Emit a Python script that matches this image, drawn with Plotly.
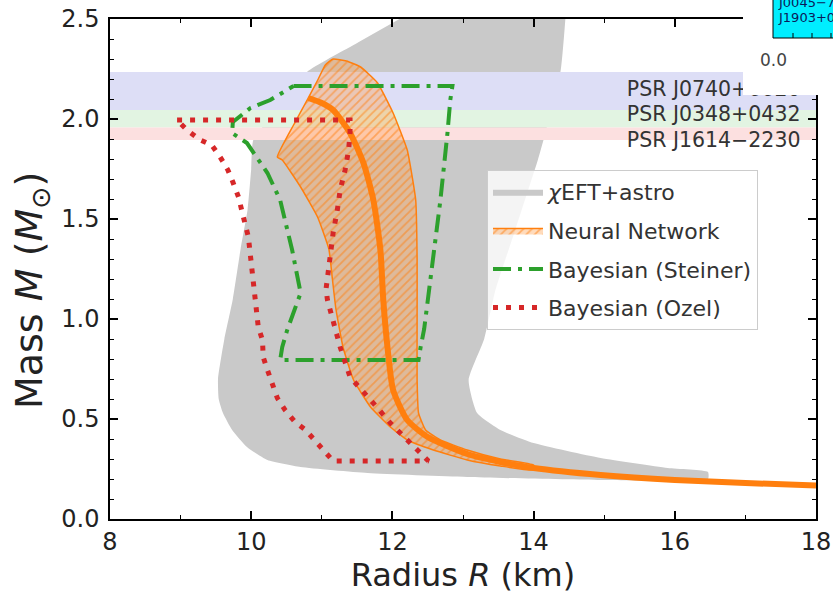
import plotly.graph_objects as go

# ---------------- data ----------------
X_RANGE = [8, 18]
Y_RANGE = [0, 2.5]
X_TICKS = [8, 10, 12, 14, 16, 18]
Y_TICKS = [0.0, 0.5, 1.0, 1.5, 2.0, 2.5]

# chiEFT + astro band (gray)
CHIEFT_R = [12.10, 11.45, 10.79, 10.40, 10.03, 10.00, 9.95, 9.85, 9.74, 9.62, 9.53, 9.54,
            9.60, 9.73, 9.94, 10.23, 10.70, 11.65, 13.06, 14.95, 16.47,
            16.47, 15.90, 14.95, 14.00, 13.53, 13.20, 13.08, 13.30, 13.46, 13.74, 14.06,
            14.14, 14.38, 14.45]
CHIEFT_M = [2.50, 2.37, 2.235, 2.06, 1.895, 1.75, 1.55, 1.35, 1.10, 0.90, 0.70, 0.60,
            0.53, 0.445, 0.36, 0.295, 0.26, 0.23, 0.21, 0.195, 0.20,
            0.235, 0.255, 0.305, 0.38, 0.445, 0.53, 0.695, 0.90, 1.145, 1.445, 1.795,
            1.895, 2.235, 2.50]

# Neural network band (hatched)
NN_R = [10.37, 10.60, 10.80, 10.95, 11.05, 11.16, 11.35, 11.55, 11.79, 12.01, 12.21,
        12.33, 12.35, 12.35, 12.35, 12.37, 12.47, 12.68, 13.06, 13.53, 14.00,
        14.00, 13.53, 13.06, 12.58, 12.21, 11.97, 11.69, 11.45, 11.30, 11.20, 11.15,
        11.10, 10.94, 10.70, 10.44, 10.37]
NN_M = [1.81, 1.97, 2.10, 2.20, 2.27, 2.30, 2.29, 2.26, 2.18, 2.03, 1.845,
        1.595, 1.30, 1.00, 0.695, 0.53, 0.445, 0.395, 0.345, 0.30, 0.27,
        0.245, 0.265, 0.295, 0.345, 0.395, 0.46, 0.56, 0.695, 0.86, 1.05, 1.20,
        1.35, 1.51, 1.66, 1.795, 1.81]

# Neural network median curve
NN_MED_R = [10.81, 11.00, 11.16, 11.40, 11.59, 11.73, 11.83, 11.87, 11.93, 12.01, 12.21,
            12.50, 13.06, 13.53, 14.00, 14.95, 16.00, 17.00, 18.00]
NN_MED_M = [2.105, 2.08, 2.045, 1.93, 1.78, 1.595, 1.345, 1.10, 0.86, 0.645, 0.495,
            0.41, 0.325, 0.285, 0.255, 0.22, 0.195, 0.18, 0.168]

# Bayesian (Steiner) contour
STEINER_R = [10.60, 12.85, 12.82, 12.78, 12.68, 12.54, 12.45, 12.40, 12.37, 10.41, 10.44,
             10.51, 10.70, 10.58, 10.41, 10.23, 9.94, 9.73, 9.74, 9.99, 10.27, 10.60]
STEINER_M = [2.165, 2.165, 2.095, 1.93, 1.595, 1.18, 0.95, 0.86, 0.795, 0.795, 0.86,
             0.945, 1.13, 1.345, 1.595, 1.73, 1.88, 1.93, 1.985, 2.055, 2.095, 2.165]

# Bayesian (Ozel) contour
OZEL_R = [8.95, 11.40, 11.40, 11.38, 11.33, 11.26, 11.22, 11.16, 11.10, 11.06, 11.08,
          11.16, 11.26, 11.40, 11.59, 11.79, 11.97, 12.16, 12.35, 12.51,
          11.16, 11.05, 10.91, 10.77, 10.62, 10.48, 10.37, 10.30, 10.23, 10.17, 10.16,
          10.10, 10.06, 10.03, 10.01, 9.96, 9.91, 9.87, 9.82, 9.74, 9.67, 9.56, 9.44,
          9.28, 9.09, 8.95]
OZEL_M = [1.995, 1.995, 1.93, 1.845, 1.745, 1.645, 1.545, 1.43, 1.26, 1.15, 1.095,
          0.98, 0.86, 0.71, 0.63, 0.555, 0.48, 0.41, 0.345, 0.29,
          0.29, 0.335, 0.395, 0.445, 0.485, 0.545, 0.605, 0.67, 0.745, 0.81, 0.895,
          0.96, 1.095, 1.195, 1.26, 1.41, 1.48, 1.545, 1.61, 1.685, 1.745, 1.81, 1.87,
          1.895, 1.945, 1.995]

# Pulsar mass constraints
PSR_NAMES = ["PSR J0740+6620", "PSR J0348+0432", "PSR J1614\u22122230"]
PSR_LO = [2.045, 1.957, 1.895]
PSR_HI = [2.235, 2.045, 1.957]
PSR_LABEL_M = [2.14, 2.015, 1.885]
PSR_LABEL_R = 17.78

# ---------------- style ----------------
GRAY = "rgb(201,201,201)"
ORANGE = "#ff7f0e"
GREEN = "#2ca02c"
RED = "#d62728"
BAND_COLORS = ["rgb(221,222,246)", "rgb(226,244,226)", "rgb(252,224,224)"]
FONT = "DejaVu Sans"

fig = go.Figure()

fig.add_trace(go.Scatter(
    x=CHIEFT_R, y=CHIEFT_M, mode="lines", fill="toself",
    line=dict(width=0, color=GRAY, shape="spline", smoothing=0.5), fillcolor=GRAY,
    name="<i>\u03c7</i>EFT+astro", legendgroup="g1", legendrank=1, hoverinfo="skip"))

for lo, hi, col in zip(PSR_LO, PSR_HI, BAND_COLORS):
    fig.add_trace(go.Scatter(
        x=[X_RANGE[0], X_RANGE[1], X_RANGE[1], X_RANGE[0], X_RANGE[0]],
        y=[lo, lo, hi, hi, lo], mode="lines", fill="toself",
        line=dict(width=0, color=col), fillcolor=col,
        showlegend=False, hoverinfo="skip"))

fig.add_trace(go.Scatter(
    x=NN_R, y=NN_M, mode="lines", fill="toself",
    line=dict(color=ORANGE, width=1.5, shape="spline", smoothing=0.4),
    fillcolor="rgba(255,160,80,0.35)",
    fillpattern=dict(shape="/", fgcolor=ORANGE, bgcolor="rgba(255,160,80,0.38)",
                     size=6, solidity=0.3),
    name="Neural Network", legendgroup="g2", legendrank=2, hoverinfo="skip"))

fig.add_trace(go.Scatter(
    x=NN_MED_R, y=NN_MED_M, mode="lines",
    line=dict(color=ORANGE, width=6, shape="spline", smoothing=0.6),
    showlegend=False, hoverinfo="skip"))

fig.add_trace(go.Scatter(
    x=STEINER_R, y=STEINER_M, mode="lines",
    line=dict(color=GREEN, width=4, dash="18px,7px,4px,7px"),
    name="Bayesian (Steiner)", legendgroup="g3", legendrank=3, hoverinfo="skip"))

fig.add_trace(go.Scatter(
    x=OZEL_R, y=OZEL_M, mode="lines",
    line=dict(color=RED, width=5, dash="5px,8px"),
    name="Bayesian (Ozel)", legendgroup="g4", legendrank=4, hoverinfo="skip"))

fig.add_trace(go.Scatter(
    x=[PSR_LABEL_R] * len(PSR_NAMES), y=PSR_LABEL_M, mode="text", text=PSR_NAMES,
    textposition="middle left", textfont=dict(family=FONT, size=20.5, color="#333"),
    showlegend=False, hoverinfo="skip"))

fig.update_layout(
    width=833, height=601,
    margin=dict(l=110, r=17, t=19, b=82),
    paper_bgcolor="white", plot_bgcolor="white",
    font=dict(family=FONT, color="#222"),
    legend=dict(x=0.534, y=0.698, xanchor="left", yanchor="top",
                bgcolor="rgba(255,255,255,0.8)", bordercolor="#cccccc", borderwidth=1,
                font=dict(family=FONT, size=22, color="#333"), tracegroupgap=7,
                itemwidth=50),
    showlegend=True,
)

fig.update_xaxes(
    range=X_RANGE, tickvals=X_TICKS, ticks="inside", ticklen=8, tickwidth=1.5,
    tickcolor="black", showline=True, linecolor="black", linewidth=1.5, mirror="ticks",
    showgrid=False, zeroline=False, automargin=False,
    tickfont=dict(family=FONT, size=24, color="#222"),
    minor=dict(ticks="inside", ticklen=4, tickwidth=1.2, tickcolor="black", dtick=1,
               tick0=8, showgrid=False),
    title=dict(text="Radius <i>R</i> (km)", font=dict(family=FONT, size=32, color="#222"),
               standoff=9))

fig.update_yaxes(
    range=Y_RANGE, tickvals=Y_TICKS, tickformat=".1f", ticks="inside", ticklen=8,
    tickwidth=1.5, tickcolor="black", showline=True, linecolor="black", linewidth=1.5,
    mirror="ticks", showgrid=False, zeroline=False, automargin=False,
    ticklabelstandoff=4,
    tickfont=dict(family=FONT, size=24, color="#222"),
    minor=dict(ticks="inside", ticklen=4, tickwidth=1.2, tickcolor="black", dtick=0.1,
               tick0=0, showgrid=False))


# pixel -> paper helpers for decorations outside the data area
def px(xp):
    return (xp - 110) / 706.0


def py(yp):
    return 1 - (yp - 19) / 500.0


# y-axis title (placed slightly below the axis centre as in the original)
fig.add_annotation(xref="paper", yref="paper", x=px(31), y=py(291), xanchor="center",
                   yanchor="middle", textangle=-90, showarrow=False,
                   text="Mass <i>M</i> (<i>M</i><sub>\u2299</sub>)",
                   font=dict(family=FONT, size=38, color="#222"))

# cropped-inset remnants at top right
fig.add_shape(type="rect", xref="paper", yref="paper", x0=px(743), x1=px(840),
              y0=py(95), y1=py(-5), fillcolor="white", line=dict(width=0), layer="above")
fig.add_shape(type="rect", xref="paper", yref="paper", x0=px(773), x1=px(845),
              y0=py(38), y1=py(-5), fillcolor="rgb(0,238,255)",
              line=dict(width=1, color="black"), layer="above")
for tx in [793, 812, 831]:
    fig.add_shape(type="line", xref="paper", yref="paper", x0=px(tx), x1=px(tx),
                  y0=py(38), y1=py(33), line=dict(width=1, color="black"), layer="above")

fig.add_annotation(xref="paper", yref="paper", x=px(776), y=py(3), xanchor="left",
                   yanchor="middle", text="J0045\u22127319", showarrow=False,
                   font=dict(family=FONT, size=13, color="#0a1a5a"))
fig.add_annotation(xref="paper", yref="paper", x=px(776), y=py(17), xanchor="left",
                   yanchor="middle", text="J1903+0327", showarrow=False,
                   font=dict(family=FONT, size=13, color="#0a1a5a"))
fig.add_annotation(xref="paper", yref="paper", x=px(773), y=py(60), xanchor="center",
                   yanchor="middle", text="0.0", showarrow=False,
                   font=dict(family=FONT, size=17, color="#444"))

fig.write_html("out.html")
